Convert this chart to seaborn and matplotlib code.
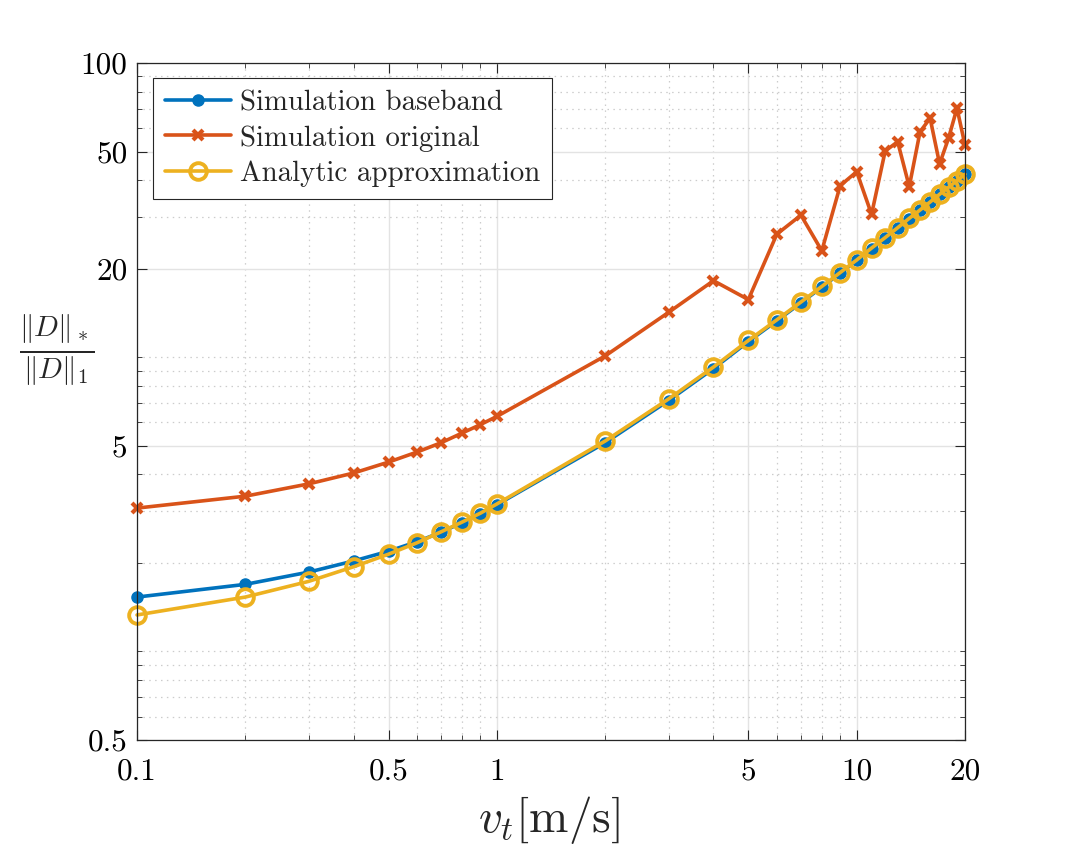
import numpy as np
import pandas as pd
import seaborn as sns
import matplotlib.pyplot as plt
from matplotlib.ticker import FixedLocator, FixedFormatter, NullFormatter

# velocity values (m/s)
v_t = [0.1, 0.2, 0.3, 0.4, 0.5, 0.6, 0.7, 0.8, 0.9, 1,
       2, 3, 4, 5, 6, 7, 8, 9, 10,
       11, 12, 13, 14, 15, 16, 17, 18, 19, 20]

sim_baseband = [1.53, 1.69, 1.86, 2.03, 2.19, 2.36, 2.54, 2.74, 2.94, 3.15,
                5.12, 7.12, 9.15, 11.3, 13.3, 15.3, 17.3, 19.3, 21.35,
                23.4, 25.45, 27.5, 29.6, 31.6, 33.65, 35.75, 37.75, 39.8, 41.8]

sim_original = [3.07, 3.37, 3.71, 4.04, 4.40, 4.76, 5.12, 5.52, 5.90, 6.29,
                10.1, 14.2, 18.2, 15.7, 26.2, 30.4, 23.0, 38.3, 42.7,
                30.6, 50.2, 54.0, 38.0, 58.4, 64.9, 45.4, 55.5, 70.2, 52.6]

analytic = [1.33, 1.53, 1.73, 1.94, 2.14, 2.34, 2.55, 2.75, 2.95, 3.17,
            5.19, 7.21, 9.26, 11.4, 13.4, 15.4, 17.4, 19.4, 21.4,
            23.5, 25.5, 27.55, 29.65, 31.65, 33.7, 35.8, 37.8, 39.8, 41.85]

x_ticks = [0.1, 0.5, 1, 5, 10, 20]
x_ticklabels = ["0.1", "0.5", "1", "5", "10", "20"]
y_ticks = [0.5, 5, 20, 50, 100]
y_ticklabels = ["0.5", "5", "20", "50", "100"]

sns.set_style("ticks")
plt.rcParams["font.family"] = "serif"
plt.rcParams["font.serif"] = ["cmr10"]
plt.rcParams["mathtext.fontset"] = "cm"
plt.rcParams["axes.unicode_minus"] = False
plt.rcParams["axes.formatter.use_mathtext"] = True

df = pd.DataFrame({
    "v": v_t,
    "baseband": sim_baseband,
    "original": sim_original,
    "analytic": analytic,
})

fig = plt.figure(figsize=(10.67, 8.48), dpi=100)
ax = fig.add_axes([0.1284, 0.1274, 0.776, 0.7983])

blue = "#0072BD"
orange = "#D95319"
yellow = "#EDB120"

sns.lineplot(data=df, x="v", y="baseband", ax=ax, color=blue, linewidth=2.6,
             marker="o", markersize=8, markerfacecolor=blue,
             markeredgecolor=blue, markeredgewidth=1, clip_on=False,
             errorbar=None, label="Simulation baseband")
sns.lineplot(data=df, x="v", y="original", ax=ax, color=orange, linewidth=2.6,
             marker="x", markersize=7.5, markeredgecolor=orange,
             markeredgewidth=3, clip_on=False,
             errorbar=None, label="Simulation original")
sns.lineplot(data=df, x="v", y="analytic", ax=ax, color=yellow, linewidth=2.6,
             marker="o", markersize=12, markerfacecolor="none",
             markeredgecolor=yellow, markeredgewidth=2.8, clip_on=False,
             errorbar=None, label="Analytic approximation")

ax.set_xscale("log")
ax.set_yscale("log")
ax.set_xlim(0.1, 20)
ax.set_ylim(0.5, 100)

ax.xaxis.set_major_locator(FixedLocator(x_ticks))
ax.xaxis.set_major_formatter(FixedFormatter(x_ticklabels))
ax.yaxis.set_major_locator(FixedLocator(y_ticks))
ax.yaxis.set_major_formatter(FixedFormatter(y_ticklabels))

x_minor = [0.2, 0.3, 0.4, 0.6, 0.7, 0.8, 0.9, 2, 3, 4, 6, 7, 8, 9]
y_minor = [0.6, 0.7, 0.8, 0.9, 1, 2, 3, 4, 6, 7, 8, 9, 10, 30, 40, 60, 70, 80, 90]
ax.xaxis.set_minor_locator(FixedLocator(x_minor))
ax.yaxis.set_minor_locator(FixedLocator(y_minor))
ax.xaxis.set_minor_formatter(NullFormatter())
ax.yaxis.set_minor_formatter(NullFormatter())

ax.grid(which="major", color="#e3e3e3", linestyle="-", linewidth=1.0)
ax.grid(which="minor", color="#cccccc", linestyle=(0, (1.2, 3.5)), linewidth=0.9)
ax.set_axisbelow(True)

ax.tick_params(which="both", direction="in", top=True, right=True,
               colors="#262626", labelcolor="black")
ax.tick_params(which="major", length=7, width=0.8, labelsize=22.5)
ax.tick_params(axis="y", which="major", pad=7)
ax.tick_params(axis="x", which="major", pad=13)
ax.tick_params(which="minor", length=3.5, width=0.6)
for s in ax.spines.values():
    s.set_color("#262626")
    s.set_linewidth(0.9)

ax.set_xlabel(r"$v_t[\mathrm{m/s}]$", fontsize=34, va="center")
ax.xaxis.set_label_coords(0.497, -0.118)
ax.set_ylabel(r"$\frac{\Vert D\Vert_*}{\Vert D\Vert_1}$", fontsize=30,
              rotation=0, ha="center", va="center")
ax.yaxis.set_label_coords(-0.097, 0.574)

leg = ax.legend(loc="upper left", bbox_to_anchor=(0.019, 0.978), fontsize=20.8,
                frameon=True, fancybox=False, framealpha=1, edgecolor="#262626",
                handlelength=2.3, handletextpad=0.3, borderpad=0.42,
                labelspacing=0.3, borderaxespad=0)
leg.get_frame().set_linewidth(0.8)

fig.savefig("out.png", dpi=100)
